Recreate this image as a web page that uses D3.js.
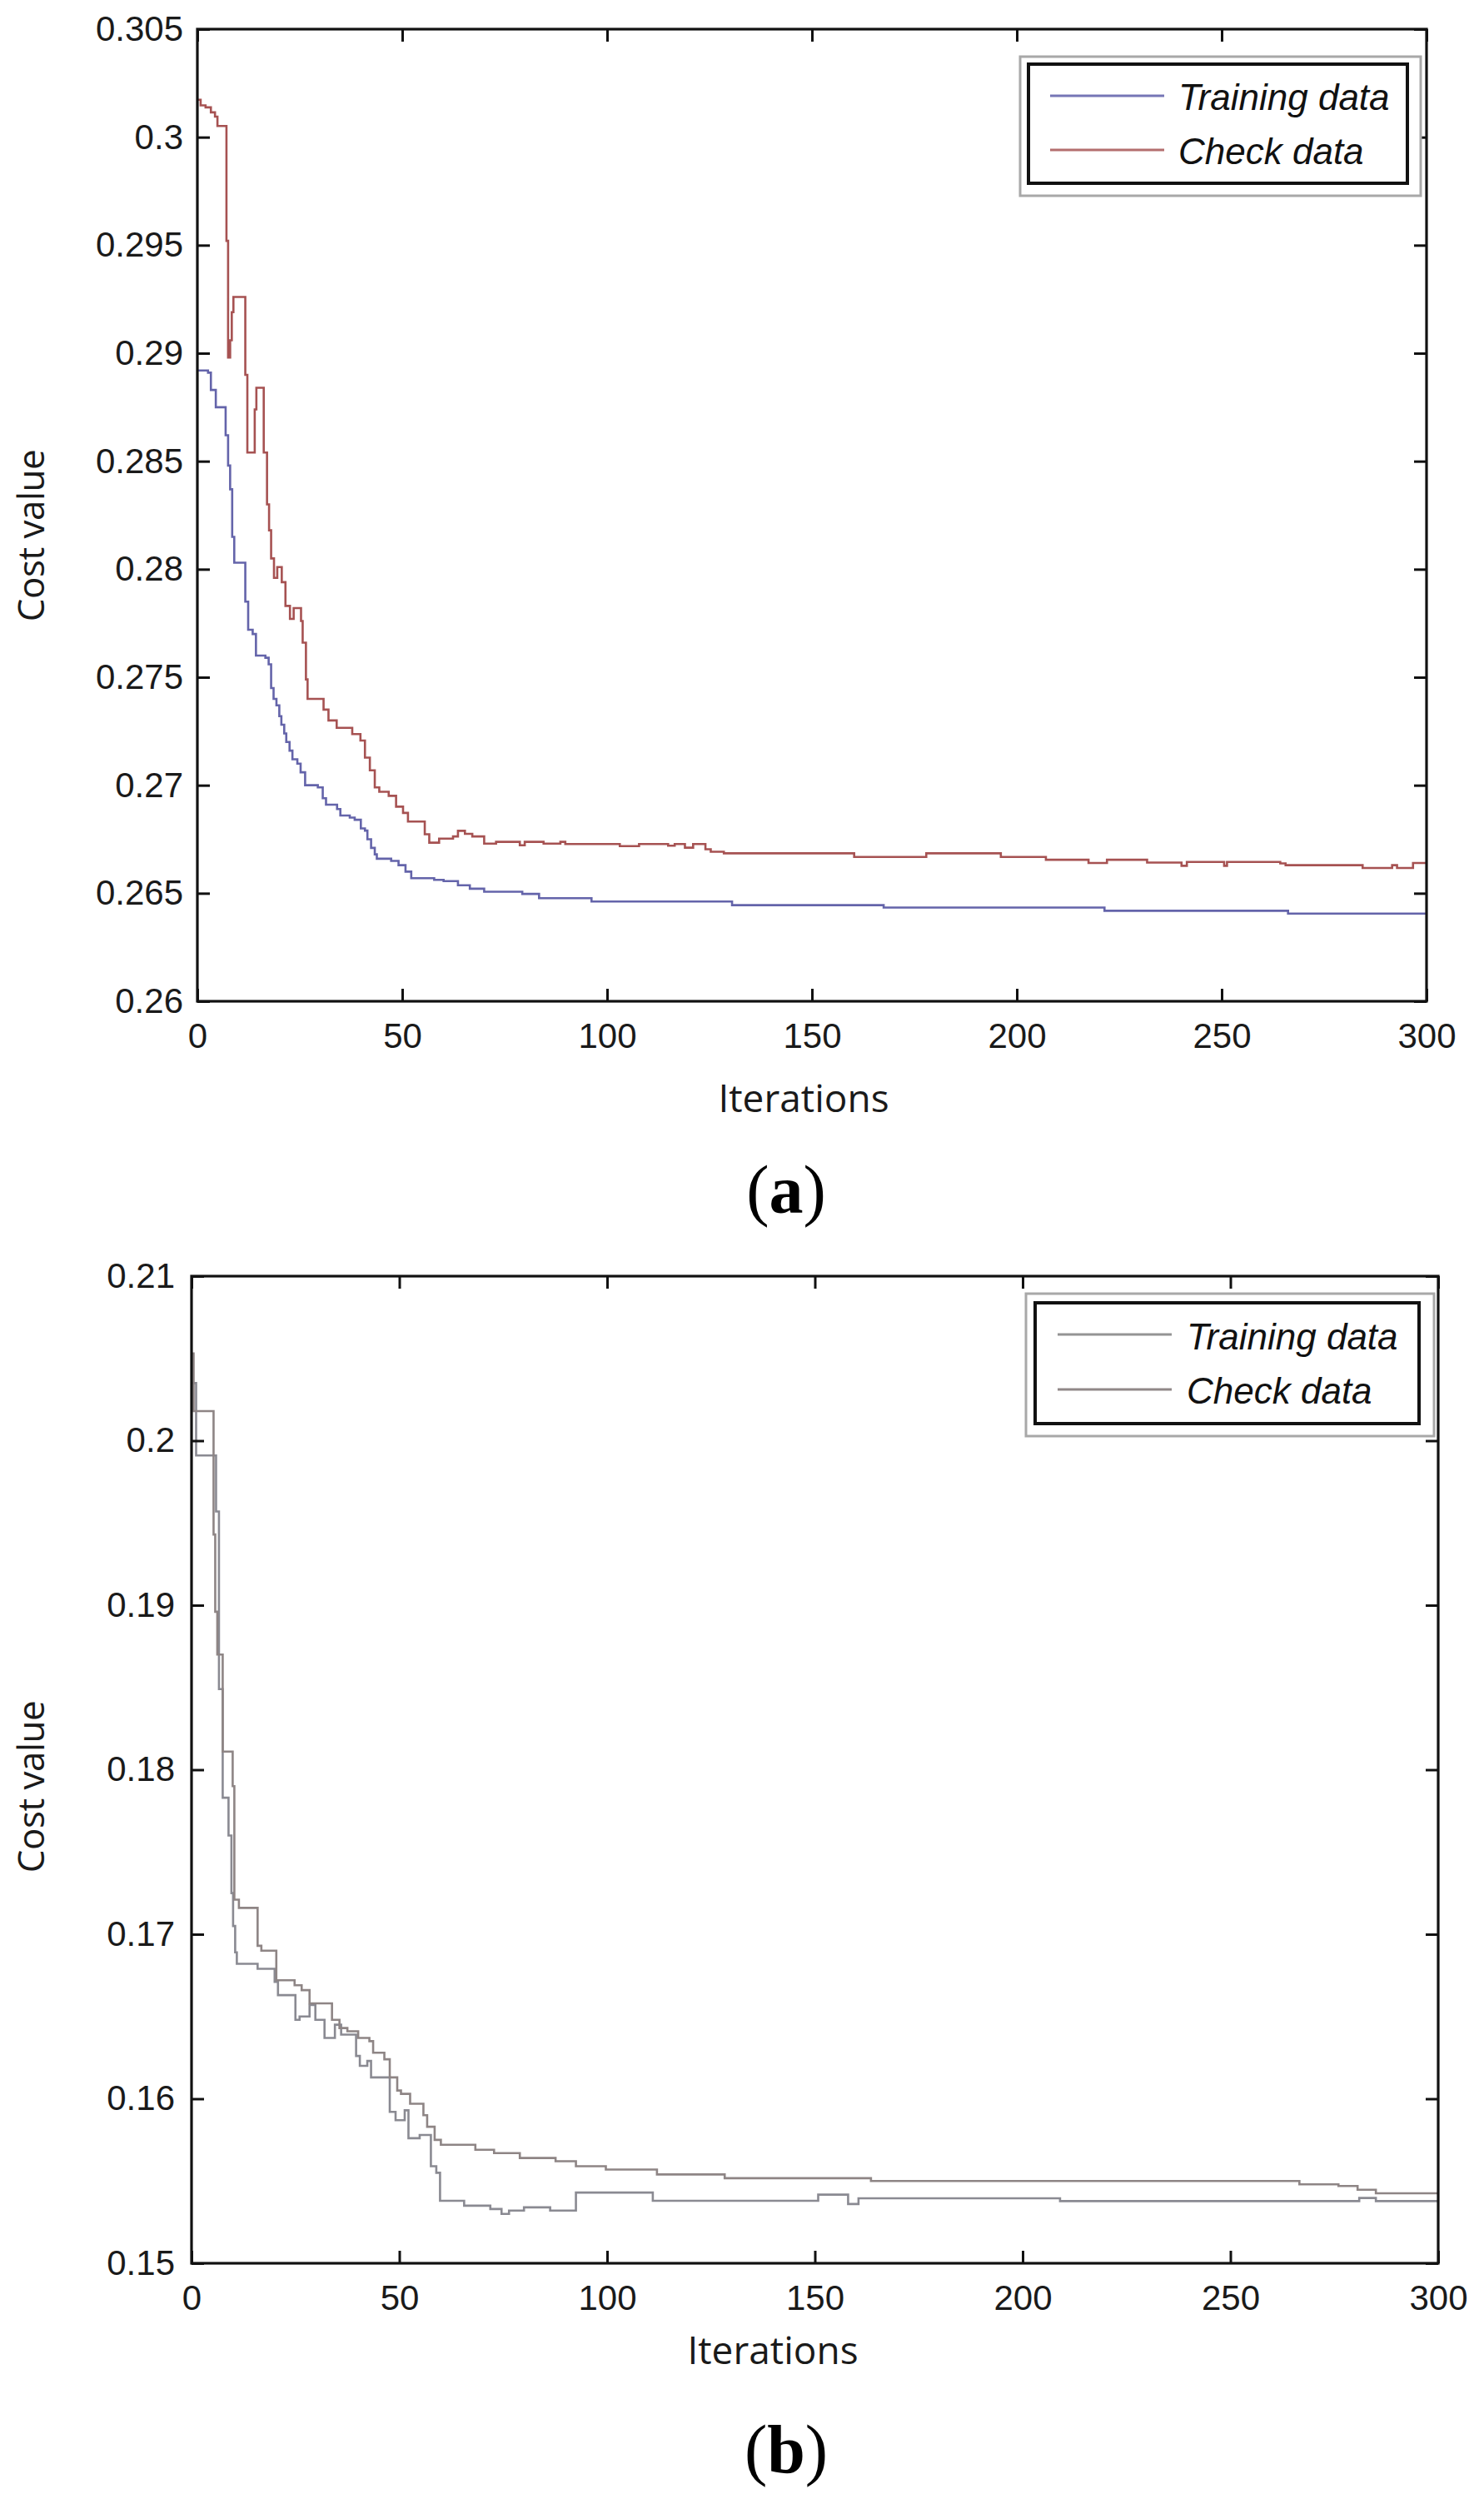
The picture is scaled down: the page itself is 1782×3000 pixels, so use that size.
<!DOCTYPE html>
<html><head><meta charset="utf-8">
<script src="https://cdn.jsdelivr.net/npm/d3@7"></script>
<style>body{margin:0;background:#fff}</style>
</head><body><svg id="c" width="1782" height="3000"></svg>
<script>
// ---------- data ----------
const iterationTicks = [0, 50, 100, 150, 200, 250, 300];
const iterationLabels = ["0", "50", "100", "150", "200", "250", "300"];
const costTicksA = [0.26, 0.265, 0.27, 0.275, 0.28, 0.285, 0.29, 0.295, 0.3, 0.305];
const costLabelsA = ["0.26", "0.265", "0.27", "0.275", "0.28", "0.285", "0.29", "0.295", "0.3", "0.305"];
const costTicksB = [0.15, 0.16, 0.17, 0.18, 0.19, 0.2, 0.21];
const costLabelsB = ["0.15", "0.16", "0.17", "0.18", "0.19", "0.2", "0.21"];
const seriesNames = ["Training data", "Check data"];
const panelLetters = ["a", "b"];
const xTitle = "Iterations";
const yTitle = "Cost value";

// panel (a): [iteration, cost] step points
const trainA = [[0,0.2892],[2.6,0.2891],[3.3,0.2883],[4.5,0.2875],[6.9,0.2862],[7.5,0.2848],[8.0,0.2837],[8.5,0.2815],[9.0,0.2803],[11.7,0.2785],[12.4,0.2772],[13.5,0.2770],[14.3,0.2760],[16.6,0.2759],[17.4,0.2756],[18.0,0.2745],[18.6,0.2740],[19.3,0.2737],[20.0,0.2732],[20.5,0.2728],[21.2,0.2724],[21.7,0.2720],[22.5,0.2716],[23.2,0.2712],[24.4,0.2710],[25.2,0.2706],[26.3,0.2700],[29.4,0.2699],[30.6,0.2694],[31.4,0.2691],[34.1,0.2689],[34.9,0.2686],[37.2,0.2685],[38.4,0.2684],[39.9,0.2680],[40.9,0.2679],[41.5,0.2675],[42.4,0.2671],[43.3,0.2668],[43.8,0.2666],[47.3,0.2665],[49.1,0.2663],[50.8,0.2660],[52.2,0.2657],[57.8,0.26562],[60.1,0.26556],[63.6,0.26537],[66.5,0.26521],[70.0,0.26507],[79.3,0.26497],[83.4,0.26477],[96.2,0.26462],[130.5,0.26445],[167.5,0.26434],[221.4,0.26419],[266.2,0.26406],[300,0.26406]];
const checkA = [[0,0.30173],[0.8,0.30147],[2.0,0.30138],[3.3,0.30115],[4.3,0.30095],[4.9,0.30052],[7.1,0.2952],[7.5,0.2898],[8.0,0.2906],[8.4,0.2919],[8.8,0.2926],[11.7,0.2890],[12.2,0.2854],[14.0,0.2874],[14.4,0.2884],[16.2,0.2854],[17.0,0.2830],[17.5,0.2818],[18.0,0.2805],[18.7,0.2796],[19.5,0.2801],[20.6,0.2794],[21.5,0.2783],[22.6,0.2777],[23.5,0.2782],[25.3,0.2776],[25.7,0.2766],[26.5,0.2749],[26.9,0.2740],[30.8,0.2735],[32.0,0.2730],[34.0,0.27266],[37.8,0.27237],[39.8,0.27207],[40.9,0.27128],[42.1,0.27069],[43.3,0.2699],[44.4,0.2697],[46.7,0.26951],[48.5,0.26901],[50.2,0.26872],[51.4,0.26832],[55.5,0.26773],[56.6,0.26734],[59.0,0.26753],[62.4,0.26763],[63.6,0.26789],[65.3,0.26775],[67.1,0.26763],[70.0,0.2673],[72.9,0.26738],[78.7,0.26722],[79.9,0.26738],[84.5,0.2673],[88.6,0.26738],[89.8,0.26728],[103.1,0.26718],[107.8,0.26728],[114.9,0.2672],[116.5,0.26728],[119,0.26711],[121,0.26728],[124,0.26704],[125.3,0.26692],[128.5,0.26685],[160.3,0.26668],[177.9,0.26685],[196.1,0.26668],[207.1,0.26655],[217.5,0.2664],[222,0.26655],[231.8,0.26642],[240.2,0.26627],[241.5,0.26645],[250.6,0.26627],[251.3,0.26645],[264.3,0.26638],[265.6,0.2663],[284.4,0.26617],[291.6,0.2663],[292.8,0.26617],[296.7,0.2664],[300,0.2664]];

// panel (b)
const trainB = [[0,0.2035],[1.1,0.1991],[5.9,0.1957],[6.6,0.1849],[7.5,0.1783],[8.9,0.1760],[9.6,0.1725],[10.0,0.1705],[10.5,0.1689],[10.9,0.1682],[15.9,0.1679],[20.0,0.1671],[20.8,0.1663],[25.0,0.1648],[26.0,0.1650],[28.4,0.1657],[29.8,0.1648],[32.0,0.1637],[34.5,0.1645],[36.0,0.1639],[39.6,0.1626],[40.5,0.1620],[42.3,0.1623],[43.2,0.1613],[47.7,0.1592],[49.1,0.1587],[51.3,0.1593],[52.2,0.1576],[54.9,0.1578],[57.6,0.1559],[58.9,0.1555],[59.8,0.1538],[65.6,0.1535],[71.9,0.1533],[74.6,0.1530],[76.4,0.1532],[80.0,0.1534],[86.3,0.1532],[92.5,0.1543],[111,0.1538],[150.8,0.15417],[158,0.1536],[160.5,0.15395],[209,0.15378],[281,0.15397],[285,0.15378],[300,0.15378]];
const checkB = [[0,0.2053],[0.5,0.2018],[5.3,0.1943],[5.7,0.1896],[6.2,0.1870],[7.5,0.1811],[9.9,0.1790],[10.3,0.1721],[11.4,0.1716],[15.9,0.1693],[16.8,0.1690],[20.4,0.1672],[24.8,0.1669],[26.5,0.1666],[28.4,0.1658],[33.8,0.1648],[35.6,0.1643],[37.5,0.1641],[40.1,0.1637],[42.8,0.1635],[43.7,0.1628],[46.4,0.1624],[47.7,0.1613],[49.5,0.1605],[50.4,0.1603],[52.6,0.1597],[55.8,0.1590],[56.7,0.1583],[58.5,0.1575],[60,0.1572],[68.3,0.1569],[72.8,0.1567],[79,0.1564],[87.6,0.1562],[92.5,0.1559],[99.7,0.1557],[112,0.1554],[128.3,0.15517],[163.5,0.1550],[266.6,0.1548],[276,0.1547],[280.6,0.15447],[285,0.15425],[300,0.15425]];

// ---------- drawing ----------
const svg = d3.select("#c");
svg.append("rect").attr("width", 1782).attr("height", 3000).attr("fill", "#fff");

const TICK_FONT = "'Liberation Sans', Arial, sans-serif";
const LABEL_FONT = "'Open Sans', sans-serif";

function drawPanel(cfg) {
  const x = d3.scaleLinear().domain([0, 300]).range([cfg.x0, cfg.x1]);
  const y = d3.scaleLinear().domain(cfg.yDomain).range([cfg.y1, cfg.y0]);
  const g = svg.append("g");

  const line = d3.line().x(d => x(d[0])).y(d => y(d[1])).curve(d3.curveStepAfter);
  cfg.series.forEach((s, i) => {
    g.append("path").attr("d", line(s)).attr("fill", "none")
      .attr("stroke", cfg.colors[i]).attr("stroke-width", 2.6);
  });

  const T = 15;
  const styleAxis = sel => {
    sel.select(".domain").remove();
    sel.selectAll(".tick line").attr("stroke", "#111").attr("stroke-width", 3);
    sel.selectAll(".tick text").attr("fill", "#1a1a1a").attr("font-family", TICK_FONT).attr("font-size", 42);
  };
  g.append("g").attr("transform", `translate(0,${cfg.y1})`)
    .call(d3.axisBottom(x).tickValues(iterationTicks).tickFormat((d, i) => iterationLabels[i])
      .tickSizeInner(-T).tickSizeOuter(0).tickPadding(26)).call(styleAxis);
  g.append("g").attr("transform", `translate(0,${cfg.y0})`)
    .call(d3.axisTop(x).tickValues(iterationTicks).tickFormat("")
      .tickSizeInner(-T).tickSizeOuter(0)).call(styleAxis);
  g.append("g").attr("transform", `translate(${cfg.x0},0)`)
    .call(d3.axisLeft(y).tickValues(cfg.yTicks).tickFormat((d, i) => cfg.yLabels[i])
      .tickSizeInner(-T).tickSizeOuter(0).tickPadding(cfg.yPad)).call(styleAxis);
  g.append("g").attr("transform", `translate(${cfg.x1},0)`)
    .call(d3.axisRight(y).tickValues(cfg.yTicks).tickFormat("")
      .tickSizeInner(-T).tickSizeOuter(0)).call(styleAxis);

  g.append("rect").attr("x", cfg.x0).attr("y", cfg.y0)
    .attr("width", cfg.x1 - cfg.x0).attr("height", cfg.y1 - cfg.y0)
    .attr("fill", "none").attr("stroke", "#111").attr("stroke-width", 3.2);

  // legend
  const L = cfg.legend;
  g.append("rect").attr("x", L.ox0).attr("y", L.oy0).attr("width", L.ox1 - L.ox0).attr("height", L.oy1 - L.oy0)
    .attr("fill", "#fff").attr("stroke", "#a8a8a8").attr("stroke-width", 3);
  g.append("rect").attr("x", L.ix0).attr("y", L.iy0).attr("width", L.ix1 - L.ix0).attr("height", L.iy1 - L.iy0)
    .attr("fill", "#fff").attr("stroke", "#111").attr("stroke-width", 4);
  seriesNames.forEach((name, i) => {
    g.append("line").attr("x1", L.lx0).attr("x2", L.lx1).attr("y1", L.ly[i]).attr("y2", L.ly[i])
      .attr("stroke", cfg.legendColors[i]).attr("stroke-width", 3);
    g.append("text").attr("x", L.tx).attr("y", L.ty[i]).text(name)
      .attr("font-family", TICK_FONT).attr("font-style", "italic").attr("font-size", 44).attr("fill", "#111");
  });

  // axis titles
  g.append("text").attr("transform", `translate(${cfg.ytX},${cfg.ytY}) rotate(-90)`)
    .attr("text-anchor", "middle").attr("font-family", LABEL_FONT).attr("font-size", 44)
    .attr("letter-spacing", -0.5).attr("fill", "#1a1a1a").text(yTitle);
  g.append("text").attr("x", cfg.xtX).attr("y", cfg.xtY).attr("text-anchor", "middle")
    .attr("font-family", LABEL_FONT).attr("font-size", 46).attr("fill", "#1a1a1a").text(xTitle);

  // panel letter
  const pl = g.append("text").attr("x", cfg.plX).attr("y", cfg.plY).attr("text-anchor", "middle")
    .attr("font-family", "'Liberation Serif', 'Times New Roman', serif").attr("font-size", 82).attr("fill", "#000");
  pl.append("tspan").text("(");
  pl.append("tspan").attr("font-weight", "bold").text(cfg.letter);
  pl.append("tspan").text(")");
}

drawPanel({
  x0: 237, x1: 1713, y0: 35, y1: 1202,
  yDomain: [0.26, 0.305], yTicks: costTicksA, yLabels: costLabelsA, yPad: 17,
  series: [trainA, checkA], colors: ["#6464aa", "#a65252"], legendColors: ["#7676b6", "#b46e6e"],
  legend: { ox0: 1225, oy0: 68, ox1: 1706, oy1: 235, ix0: 1235, iy0: 77, ix1: 1690, iy1: 220,
            lx0: 1261, lx1: 1398, ly: [115, 180], tx: 1415, ty: [132, 197] },
  ytX: 53, ytY: 643, xtX: 965, xtY: 1335, plX: 944, plY: 1456, letter: panelLetters[0]
});

drawPanel({
  x0: 230, x1: 1727, y0: 1532, y1: 2717,
  yDomain: [0.15, 0.21], yTicks: costTicksB, yLabels: costLabelsB, yPad: 20,
  series: [trainB, checkB], colors: ["#8a8a92", "#8e8585"], legendColors: ["#949494", "#908888"],
  legend: { ox0: 1232, oy0: 1553, ox1: 1722, oy1: 1724, ix0: 1243, iy0: 1564, ix1: 1704, iy1: 1709,
            lx0: 1270, lx1: 1407, ly: [1602, 1668], tx: 1425, ty: [1620, 1685] },
  ytX: 53, ytY: 2145, xtX: 928, xtY: 2838, plX: 944, plY: 2968, letter: panelLetters[1]
});
</script>
</body></html>
